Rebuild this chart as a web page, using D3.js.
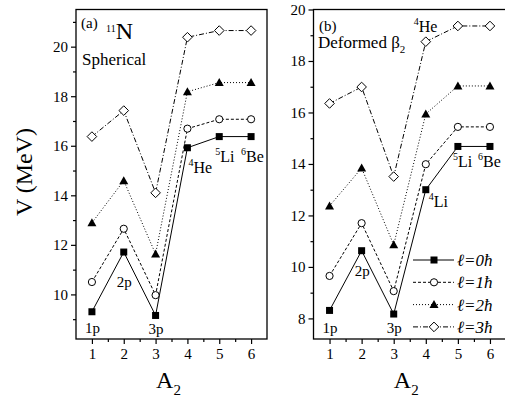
<!DOCTYPE html>
<html>
<head>
<meta charset="utf-8">
<script src="https://cdn.jsdelivr.net/npm/d3@7"></script>
<style>
  body { margin: 0; background: #fff; }
  svg { display: block; }
</style>
</head>
<body>
<div id="chart"></div>
<script>
// values
var a2 = [1, 2, 3, 4, 5, 6];
var xTicks = [1, 2, 3, 4, 5, 6];

// (a) spherical
var sphL0 = [9.30, 11.71, 9.15, 15.92, 16.37, 16.37];
var sphL1 = [10.50, 12.65, 9.97, 16.69, 17.07, 17.07];
var sphL2 = [12.89, 14.59, 11.63, 18.18, 18.55, 18.55];
var sphL3 = [16.37, 17.42, 14.10, 20.38, 20.65, 20.65];
var sphTicks = [10, 12, 14, 16, 18, 20];

// (b) deformed
var defL0 = [8.31, 10.63, 8.17, 13.00, 14.68, 14.68];
var defL1 = [9.65, 11.70, 9.06, 13.99, 15.44, 15.44];
var defL2 = [12.37, 13.84, 10.86, 15.94, 17.03, 17.03];
var defL3 = [16.35, 16.99, 13.51, 18.75, 19.36, 19.36];
var defTicks = [8, 10, 12, 14, 16, 18, 20];

var legendNames = ["0", "1", "2", "3"];

var W = 505, H = 397;
var FONT = "'Liberation Serif', 'Times New Roman', Times, serif";
var svg = d3.select("#chart").append("svg").attr("width", W).attr("height", H);

var dashes = [null, "3,2", "1,2", "5,2,1,2"];

function marker(g, k, x, y) {
  if (k == 0) {
    g.append("rect").attr("x", x - 3.5).attr("y", y - 3.5).attr("width", 7).attr("height", 7).attr("fill", "#000");
  } else if (k == 1) {
    g.append("circle").attr("cx", x).attr("cy", y).attr("r", 3.6).attr("fill", "#fff").attr("stroke", "#000").attr("stroke-width", 1);
  } else if (k == 2) {
    g.append("path").attr("d", "M" + x + "," + (y - 4.5) + "L" + (x + 4.5) + "," + (y + 3.5) + "L" + (x - 4.5) + "," + (y + 3.5) + "Z").attr("fill", "#000");
  } else {
    g.append("path").attr("d", "M" + x + "," + (y - 4.8) + "L" + (x + 4.8) + "," + y + "L" + x + "," + (y + 4.8) + "L" + (x - 4.8) + "," + y + "Z")
      .attr("fill", "#fff").attr("stroke", "#000").attr("stroke-width", 1);
  }
}

function panel(opt) {
  var x = d3.scaleLinear().domain([0.5, 6.5]).range([opt.left, opt.right]);
  var y = d3.scaleLinear().domain(opt.yDomain).range([339, 9.5]);
  var g = svg.append("g");

  // frame
  g.append("rect").attr("x", opt.left).attr("y", 9.5).attr("width", opt.right - opt.left).attr("height", 339 - 9.5)
    .attr("fill", "none").attr("stroke", "#000").attr("stroke-width", 1.3);

  // axes
  var minorY = d3.range(Math.ceil(opt.yDomain[0]), opt.yDomain[1], 1).filter(function (v) { return opt.yTicks.indexOf(v) < 0; });
  g.append("g").attr("transform", "translate(" + opt.left + ",0)")
    .call(d3.axisLeft(y).tickValues(opt.yTicks).tickSize(5).tickPadding(3).tickFormat(d3.format("d")));
  g.append("g").attr("transform", "translate(" + opt.left + ",0)")
    .call(d3.axisLeft(y).tickValues(minorY).tickSize(3).tickFormat(""));
  g.append("g").attr("transform", "translate(0,339)")
    .call(d3.axisBottom(x).tickValues(xTicks).tickSize(5).tickPadding(4).tickFormat(d3.format("d")));
  g.append("g").attr("transform", "translate(0,339)")
    .call(d3.axisBottom(x).tickValues([1.5, 2.5, 3.5, 4.5, 5.5]).tickSize(3).tickFormat(""));
  g.selectAll(".domain").attr("stroke", "none");
  g.selectAll(".tick line").attr("stroke", "#000").attr("stroke-width", 1.2);
  g.selectAll(".tick text").attr("font-size", 15).attr("fill", "#000");

  // series
  var line = d3.line().x(function (d, i) { return x(a2[i]); }).y(function (d) { return y(d); });
  opt.series.forEach(function (s, k) {
    g.append("path").attr("d", line(s)).attr("fill", "none").attr("stroke", "#000")
      .attr("stroke-width", 1).attr("stroke-dasharray", dashes[k]);
  });
  opt.series.forEach(function (s, k) {
    s.forEach(function (v, i) { marker(g, k, x(a2[i]), y(v)); });
  });

  // x label
  var xl = g.append("text").attr("x", (opt.left + Math.min(opt.right, W)) / 2 - 3).attr("y", 388)
    .attr("text-anchor", "middle").attr("font-size", 24);
  xl.append("tspan").text("A");
  xl.append("tspan").attr("font-size", 15).attr("dy", 7).text("2");

  return { x: x, y: y, g: g };
}

function label(g, x, y, sup, main, size) {
  var t = g.append("text").attr("x", x).attr("y", y).attr("font-size", size || 16);
  if (sup) t.append("tspan").attr("font-size", 10).attr("dy", -7).text(sup);
  t.append("tspan").attr("dy", sup ? 7 : 0).text(main);
  return t;
}

// (a)
var pa = panel({ left: 76, right: 267, yDomain: [8.2, 21.5], yTicks: sphTicks, series: [sphL0, sphL1, sphL2, sphL3] });
var ga = pa.g;
ga.append("text").attr("x", 81).attr("y", 28).attr("font-size", 15).text("(a)");
label(ga, 106, 39, "11", "N", 24);
ga.append("text").attr("x", 82).attr("y", 65).attr("font-size", 17).text("Spherical");
ga.append("text").attr("x", pa.x(1) - 7).attr("y", 333).attr("font-size", 15).text("1p");
ga.append("text").attr("x", pa.x(2) - 7).attr("y", 287).attr("font-size", 15).text("2p");
ga.append("text").attr("x", pa.x(3) - 7).attr("y", 334).attr("font-size", 15).text("3p");
label(ga, pa.x(4) + 1, 173, "4", "He");
label(ga, pa.x(5) - 4, 162, "5", "Li");
label(ga, pa.x(6) - 10, 162, "6", "Be");

// y label
svg.append("text").attr("transform", "translate(32,172) rotate(-90)").attr("text-anchor", "middle")
  .attr("font-size", 24).text("V (MeV)");

// (b)
var pb = panel({ left: 313.5, right: 506, yDomain: [7.2, 20], yTicks: defTicks, series: [defL0, defL1, defL2, defL3] });
var gb = pb.g;
gb.append("text").attr("x", 319).attr("y", 31).attr("font-size", 15).text("(b)");
var db = gb.append("text").attr("x", 318).attr("y", 48).attr("font-size", 17);
db.append("tspan").text("Deformed \u03b2");
db.append("tspan").attr("font-size", 11).attr("dy", 5).text("2");
label(gb, pb.x(4) - 12, 32, "4", "He");
label(gb, pb.x(4) + 3, 207, "4", "Li");
label(gb, pb.x(5) - 5, 167, "5", "Li");
label(gb, pb.x(6) - 12, 167, "6", "Be");
gb.append("text").attr("x", pb.x(1) - 7).attr("y", 333).attr("font-size", 15).text("1p");
gb.append("text").attr("x", pb.x(2) - 7).attr("y", 276).attr("font-size", 15).text("2p");
gb.append("text").attr("x", pb.x(3) - 7).attr("y", 333).attr("font-size", 15).text("3p");

// legend
var lg = gb.append("g");
legendNames.forEach(function (n, k) {
  var ly = 260 + k * 22.3;
  lg.append("line").attr("x1", 413).attr("x2", 454).attr("y1", ly).attr("y2", ly).attr("stroke", "#000")
    .attr("stroke-width", 1).attr("stroke-dasharray", dashes[k]);
  marker(lg, k, 434, ly);
  lg.append("text").attr("x", 457).attr("y", ly + 6).attr("font-size", 17).attr("font-style", "italic")
    .text("\u2113=" + n + "\u0127");
});

// serif everywhere, axis groups included
svg.selectAll("text").attr("font-family", FONT);
svg.selectAll("g").attr("font-family", FONT);
</script>
</body>
</html>
